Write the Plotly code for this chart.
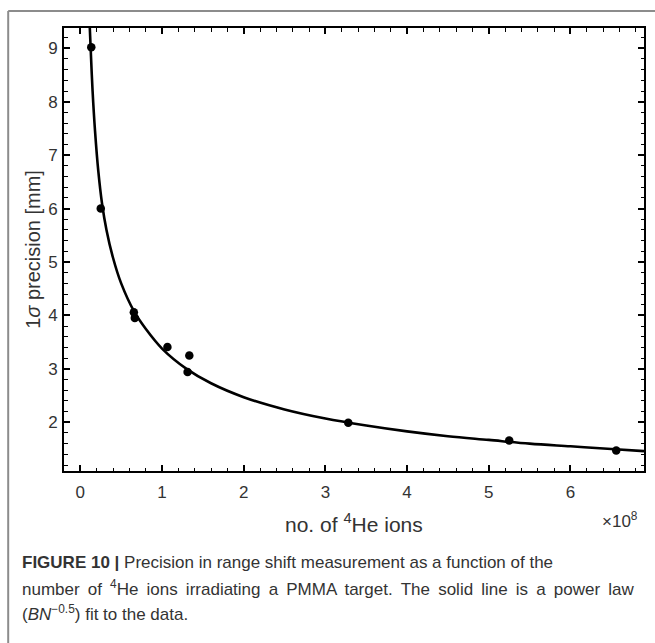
import plotly.graph_objects as go

# Measured data (number of 4He ions in units of 1e8, 1-sigma precision in mm)
ions = [0.134, 0.25, 0.655, 0.667, 1.066, 1.313, 1.334, 3.28, 5.25, 6.56]
precision = [9.02, 6.0, 4.06, 3.95, 3.41, 2.94, 3.25, 1.99, 1.66, 1.47]

# Power-law fit curve
fit_x = [0.116, 0.126, 0.15, 0.18, 0.22, 0.265, 0.32, 0.4, 0.5, 0.66, 0.8, 1.0,
         1.3, 1.6, 2.0, 2.5, 3.0, 3.5, 4.0, 4.5, 5.0, 5.5, 6.0, 6.5, 6.9]
fit_y = [9.38, 9.01, 8.2, 7.45, 6.7, 6.1, 5.6, 5.08, 4.6, 4.07, 3.75, 3.38,
         3.0, 2.73, 2.47, 2.24, 2.07, 1.94, 1.83, 1.74, 1.67, 1.60, 1.55, 1.50, 1.46]

x_ticks = [0, 1, 2, 3, 4, 5, 6]
y_ticks = [2, 3, 4, 5, 6, 7, 8, 9]

caption_lines = [
    "<b>FIGURE 10 |</b> Precision in range shift measurement as a function of the",
    "number of <sup>4</sup>He ions irradiating a PMMA target. The solid line is a power law",
    "(<i>BN</i><sup>−0.5</sup>) fit to the data.",
]

W, H = 655, 643
L, R, T, B = 64, 646, 28, 471.5


def px(x):
    return (x - L) / (R - L)


def py(y):
    return (B - y) / (B - T)


FONT = "Liberation Sans"
TXT = "#333333"

fig = go.Figure()
fig.add_trace(go.Scatter(x=fit_x, y=fit_y, mode="lines",
                         line=dict(color="black", width=2.6, shape="spline"),
                         hoverinfo="skip", showlegend=False))
fig.add_trace(go.Scatter(x=ions, y=precision, mode="markers",
                         marker=dict(color="black", size=8.5),
                         showlegend=False))

axis_common = dict(
    showline=True, linecolor="black", linewidth=2, mirror="allticks",
    ticks="inside", ticklen=6, tickwidth=1.5, tickcolor="black",
    showgrid=False, zeroline=False,
    tickfont=dict(family=FONT, size=17, color=TXT),
    minor=dict(dtick=0.2, ticks="inside", ticklen=3.5, tickwidth=1.2,
               tickcolor="black", showgrid=False),
)

fig.update_xaxes(range=[-0.2, 6.9], tickvals=x_ticks,
                 ticktext=[str(v) for v in x_ticks], ticklabelstandoff=5,
                 **axis_common)
fig.update_yaxes(range=[1.088, 9.38], tickvals=y_ticks,
                 ticktext=[str(v) for v in y_ticks], ticklabelstandoff=1,
                 **axis_common)

annotations = [
    dict(x=px(355), y=py(524), text="no. of <sup>4</sup>He ions",
         font=dict(family=FONT, size=21, color=TXT)),
    dict(x=px(622), y=py(521), text="×10<sup>8</sup>",
         font=dict(family=FONT, size=17, color=TXT)),
    dict(x=px(33), y=py(250), text="1<i>σ</i> precision [mm]", textangle=-90,
         font=dict(family=FONT, size=20, color=TXT)),
    dict(x=px(20), y=py(563), xanchor="left", text=caption_lines[0],
         font=dict(family=FONT, size=17, color=TXT)),
    dict(x=px(20), y=py(589), xanchor="left",
         text=caption_lines[1].replace(" ", " \u2009"),
         font=dict(family=FONT, size=17, color=TXT)),
    dict(x=px(20), y=py(614), xanchor="left", text=caption_lines[2],
         font=dict(family=FONT, size=17, color=TXT)),
]
for a in annotations:
    a.setdefault("xanchor", "center")
    a.update(xref="paper", yref="paper", yanchor="middle", showarrow=False)

shapes = [
    dict(type="line", xref="paper", yref="paper", x0=px(8), x1=px(8),
         y0=py(11), y1=py(650), line=dict(color="#8c8c8c", width=2)),
    dict(type="line", xref="paper", yref="paper", x0=px(8), x1=px(660),
         y0=py(11), y1=py(11), line=dict(color="#8c8c8c", width=2)),
]

fig.update_layout(
    width=W, height=H,
    margin=dict(l=L, r=W - R, t=T, b=H - B),
    paper_bgcolor="white", plot_bgcolor="white",
    annotations=annotations, shapes=shapes,
    font=dict(family=FONT, color=TXT),
)

fig.write_html("out.html", config={"displayModeBar": False},
               post_script="document.body.style.margin='0';document.body.style.padding='0';")
